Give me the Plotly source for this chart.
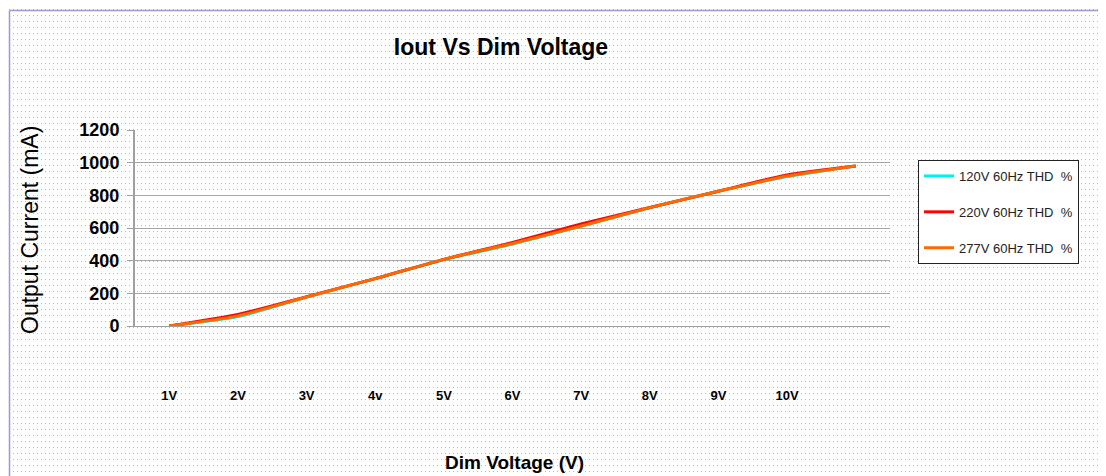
import base64
import plotly.graph_objects as go

# ---- data ----
x_pos = [1, 2, 3, 4, 5, 6, 7, 8, 9, 10, 11]
x_labels = ["1V", "2V", "3V", "4v", "5V", "6V", "7V", "8V", "9V", "10V", ""]
s120 = [0, 58, 176, 290, 406, 502, 610, 724, 825, 915, 980]
s220 = [0, 70, 180, 290, 408, 512, 625, 725, 825, 925, 980]
s277 = [0, 62, 178, 290, 408, 505, 612, 725, 825, 918, 980]
names = ["120V 60Hz THD\u00a0\u00a0%", "220V 60Hz THD\u00a0\u00a0%", "277V 60Hz THD\u00a0\u00a0%"]
y_ticks = [0, 200, 400, 600, 800, 1000, 1200]

OFF = 8  # page body margin
W, H = 1106 - OFF, 476 - OFF
L, R, T, B = 135 - OFF, 216, 130 - OFF, 150
pw, ph = W - L - R, H - T - B

# dotted background + frame as an svg
svg = f'''<svg xmlns="http://www.w3.org/2000/svg" width="{W}" height="{H}" viewBox="0 0 {W} {H}">
<defs><pattern id="p" width="4" height="6" patternUnits="userSpaceOnUse">
<rect x="1" y="1" width="1" height="1" fill="#a4bde0"/></pattern></defs>
<rect width="{W}" height="{H}" fill="white"/>
<rect width="{W}" height="{H}" fill="url(#p)"/>
<line x1="1.5" y1="2.5" x2="{W}" y2="2.5" stroke="#9a9acc" stroke-width="1.5"/>
<line x1="1.5" y1="2.5" x2="1.5" y2="{H}" stroke="#9a9acc" stroke-width="1.5"/>
</svg>'''
src = "data:image/svg+xml;base64," + base64.b64encode(svg.encode()).decode()

fig = go.Figure()
for name, ys, col, wd in [(names[0], s120, "#00f0f0", 3),
                          (names[1], s220, "#ff0000", 3),
                          (names[2], s277, "#ff6a00", 3)]:
    fig.add_trace(go.Scatter(x=x_pos, y=ys, mode="lines", name=name,
                             legendgroup=name,
                             line=dict(color=col, width=wd, shape="spline", smoothing=0.6)))

font = "Liberation Sans, Arial, sans-serif"
fig.update_layout(
    width=W, height=H,
    margin=dict(l=L, r=R, t=T, b=B),
    paper_bgcolor="white", plot_bgcolor="white",
    images=[dict(source=src, xref="paper", yref="paper",
                 x=-L / pw, y=1 + T / ph, sizex=W / pw, sizey=H / ph,
                 xanchor="left", yanchor="top", sizing="stretch", layer="below")],
    title=dict(text="Iout Vs Dim Voltage", x=(501 - OFF) / W, xanchor="center",
               y=1 - (47 - OFF) / H, yanchor="middle",
               font=dict(family=font, size=23, color="black", weight="bold")),
    xaxis=dict(range=[0.5, 11.5], tickvals=x_pos, ticktext=x_labels,
               showgrid=False, zeroline=False, showline=True, linecolor="#a0a0a0",
               linewidth=1, ticks="", ticklabelstandoff=57,
               tickfont=dict(family=font, size=13, color="black", weight="bold")),
    yaxis=dict(range=[0, 1200], tickvals=y_ticks, showgrid=True, gridcolor="#a6a6a6",
               gridwidth=1, zeroline=False, showline=True, linecolor="#a0a0a0",
               linewidth=2, ticks="outside", ticklen=6, tickcolor="#a0a0a0",
               ticklabelstandoff=4,
               tickfont=dict(family=font, size=18, color="black", weight="bold")),
    legend=dict(x=(918 - 135) / pw, y=(326 - 160) / ph, xanchor="left", yanchor="top",
                bgcolor="white", bordercolor="#222", borderwidth=1,
                tracegroupgap=16, itemwidth=30,
                font=dict(family=font, size=13, color="#222")),
    annotations=[
        dict(text="Output Current (mA)", xref="paper", yref="paper",
             x=(30 - 135) / pw, y=(326 - 230) / ph, textangle=-90, showarrow=False,
             xanchor="center", yanchor="middle",
             font=dict(family=font, size=23, color="black")),
        dict(text="Dim Voltage (V)", xref="paper", yref="paper",
             x=(514 - 135) / pw, y=(326 - 462) / ph, showarrow=False,
             xanchor="center", yanchor="middle",
             font=dict(family=font, size=19, color="black", weight="bold")),
    ],
)

fig.write_html("out.html")
